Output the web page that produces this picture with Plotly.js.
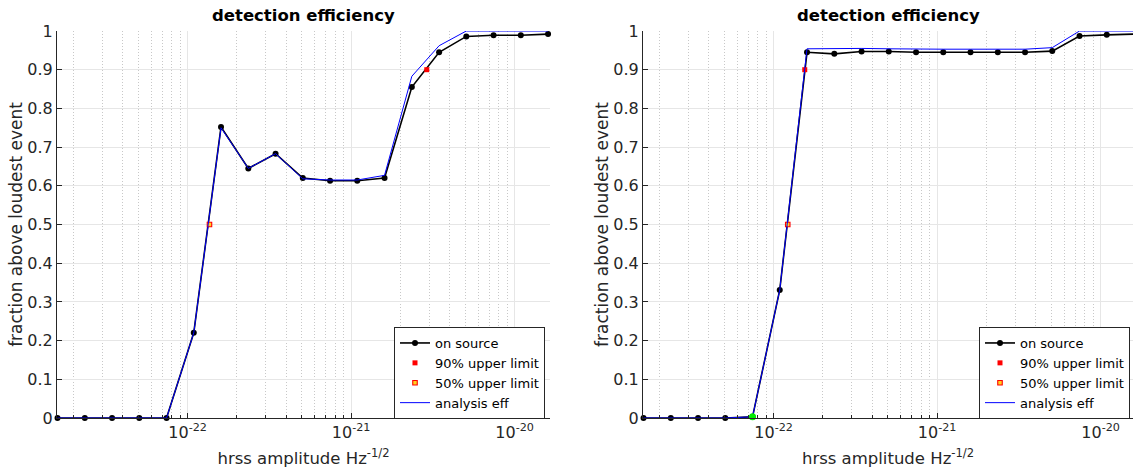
<!DOCTYPE html>
<html>
<head>
<meta charset="utf-8">
<script src="https://cdn.plot.ly/plotly-3.0.1.min.js"></script>
<style>html,body{margin:0;padding:0;background:#fff;}#chart{width:1133px;height:469px;}</style>
</head>
<body>
<div id="chart"></div>
<script>
// hrss amplitude grid (Hz^-1/2)
const hrss = [1.6e-23, 2.35e-23, 3.45e-23, 5.06e-23, 7.43e-23, 1.09e-22, 1.6e-22, 2.35e-22, 3.45e-22, 5.06e-22,
              7.43e-22, 1.09e-21, 1.6e-21, 2.35e-21, 3.45e-21, 5.06e-21, 7.43e-21, 1.09e-20, 1.6e-20];

// left panel
const leftOnSource = [0, 0, 0, 0, 0, 0.22, 0.752, 0.645, 0.683, 0.62, 0.613, 0.613, 0.62, 0.855, 0.945, 0.986, 0.989, 0.989, 0.992];
const leftAnalysisEff = [0, 0, 0, 0, 0, 0.22, 0.75, 0.645, 0.683, 0.618, 0.615, 0.615, 0.627, 0.883, 0.962, 1, 1, 1, 1];
const leftUL90 = {x: [2.9e-21], y: [0.9]};
const leftUL50 = {x: [1.36e-22], y: [0.5]};

// right panel
const rightOnSource = [0, 0, 0, 0, 0.003, 0.331, 0.945, 0.941, 0.947, 0.947, 0.945, 0.945, 0.945, 0.945, 0.945, 0.948, 0.987, 0.99, 0.992];
const rightAnalysisEff = [0, 0, 0, 0, 0.003, 0.331, 0.954, 0.955, 0.955, 0.954, 0.953, 0.953, 0.953, 0.953, 0.953, 0.957, 1, 1, 1];
const rightUL90 = {x: [1.55e-22], y: [0.9]};
const rightUL50 = {x: [1.22e-22], y: [0.5]};
const rightMarked = {x: [7.43e-23], y: [0.003]};

// axis ticks
const yTickVals = [0, 0.1, 0.2, 0.3, 0.4, 0.5, 0.6, 0.7, 0.8, 0.9, 1];
const yTickText = ['0', '0.1', '0.2', '0.3', '0.4', '0.5', '0.6', '0.7', '0.8', '0.9', '1'];
const xTickVals = [1e-22, 1e-21, 1e-20];
const xTickText = ['10<sup>-22</sup>', '10<sup>-21</sup>', '10<sup>-20</sup>'];

const titleText = 'detection efficiency';
const xTitle = 'hrss amplitude Hz<sup>-1/2</sup>';
const yTitle = 'fraction above loudest event';
const legendNames = ['on source', '90% upper limit', '50% upper limit', 'analysis eff'];

const minorVals = [];
for (let e = -23; e <= -20; e++) for (let m = 2; m <= 9; m++) minorVals.push(m * Math.pow(10, e));

const FONT = 'DejaVu Sans, sans-serif';
const AX = '#262626';

function panelTraces(xa, ya, leg, onSrc, eff, ul90, ul50) {
  return [
    {x: hrss, y: onSrc, xaxis: xa, yaxis: ya, legend: leg, name: legendNames[0], type: 'scatter', mode: 'lines+markers',
     line: {color: '#000000', width: 1.6}, marker: {color: '#000000', size: 6, symbol: 'circle'}, cliponaxis: false},
    {x: ul90.x, y: ul90.y, xaxis: xa, yaxis: ya, legend: leg, name: legendNames[1], type: 'scatter', mode: 'markers',
     marker: {color: '#ff0000', size: 5, symbol: 'square'}, cliponaxis: false},
    {x: ul50.x, y: ul50.y, xaxis: xa, yaxis: ya, legend: leg, name: legendNames[2], type: 'scatter', mode: 'markers',
     marker: {color: '#ffd21f', size: 4.5, symbol: 'square', line: {color: '#ff0000', width: 1.1}}, cliponaxis: false},
    {x: hrss, y: eff, xaxis: xa, yaxis: ya, legend: leg, name: legendNames[3], type: 'scatter', mode: 'lines',
     line: {color: '#0000ff', width: 1}}
  ];
}

const data = [].concat(
  panelTraces('x', 'y', 'legend', leftOnSource, leftAnalysisEff, leftUL90, leftUL50),
  panelTraces('x2', 'y2', 'legend2', rightOnSource, rightAnalysisEff, rightUL90, rightUL50),
  [{x: rightMarked.x, y: rightMarked.y, xaxis: 'x2', yaxis: 'y2', showlegend: false, type: 'scatter', mode: 'markers',
    marker: {color: '#00ee00', size: 7, symbol: 'circle'}, cliponaxis: false}]
);

const W = 1133, H = 469;
const yDom = [(H - 418) / H, (H - 31) / H];

function xAxis(domain, range) {
  return {
    type: 'log', domain: domain, range: range,
    tickmode: 'array', tickvals: xTickVals, ticktext: xTickText,
    ticks: 'inside', ticklen: 5, tickwidth: 1, tickcolor: AX,
    showline: true, linecolor: AX, linewidth: 1, mirror: false,
    showgrid: true, gridcolor: '#e6e6e6', gridwidth: 1, zeroline: false,
    minor: {tickmode: 'array', tickvals: minorVals, ticks: 'inside', ticklen: 3, tickcolor: AX,
            showgrid: true, gridcolor: '#c8c8c8', griddash: '1px,2px', gridwidth: 1},
    tickfont: {family: FONT, size: 16, color: AX},
    title: {text: xTitle, font: {family: FONT, size: 16.5, color: AX}, standoff: 11},
    automargin: false
  };
}
function yAxis(anchor) {
  return {
    domain: yDom, range: [0, 1], anchor: anchor,
    tickmode: 'array', tickvals: yTickVals, ticktext: yTickText,
    ticks: 'inside', ticklen: 5, tickwidth: 1, tickcolor: AX,
    showline: true, linecolor: AX, linewidth: 1,
    showgrid: true, gridcolor: '#e6e6e6', gridwidth: 1, zeroline: false,
    tickfont: {family: FONT, size: 16, color: AX},
    title: {text: yTitle, font: {family: FONT, size: 17, color: AX}, standoff: 0},
    automargin: false
  };
}

const legendStyle = (xRight) => ({
  x: xRight / W, xanchor: 'right', y: (H - 327) / H, yanchor: 'top',
  bgcolor: '#ffffff', bordercolor: AX, borderwidth: 1,
  font: {family: FONT, size: 13, color: '#000000'}, tracegroupgap: 0, itemwidth: 30
});

const layout = {
  width: W, height: H,
  margin: {l: 0, r: 0, t: 0, b: 0},
  paper_bgcolor: '#ffffff', plot_bgcolor: '#ffffff',
  font: {family: FONT, color: AX},
  showlegend: true,
  xaxis: Object.assign(xAxis([57 / W, 550 / W], [-22.799, -19.784]), {anchor: 'y'}),
  yaxis: yAxis('x'),
  xaxis2: Object.assign(xAxis([643 / W, 1], [-22.799, -19.802]), {anchor: 'y2'}),
  yaxis2: yAxis('x2'),
  legend: legendStyle(545),
  legend2: legendStyle(1130),
  annotations: [
    {text: titleText, xref: 'paper', yref: 'paper', x: (57 + 550) / 2 / W, y: (H - 16) / H, xanchor: 'center', yanchor: 'middle',
     showarrow: false, font: {family: FONT, size: 16.5, color: '#000000', weight: 'bold'}},
    {text: titleText, xref: 'paper', yref: 'paper', x: (643 + 1133) / 2 / W, y: (H - 16) / H, xanchor: 'center', yanchor: 'middle',
     showarrow: false, font: {family: FONT, size: 16.5, color: '#000000', weight: 'bold'}}
  ]
};

Plotly.newPlot('chart', data, layout, {staticPlot: true, displayModeBar: false});
</script>
</body>
</html>
